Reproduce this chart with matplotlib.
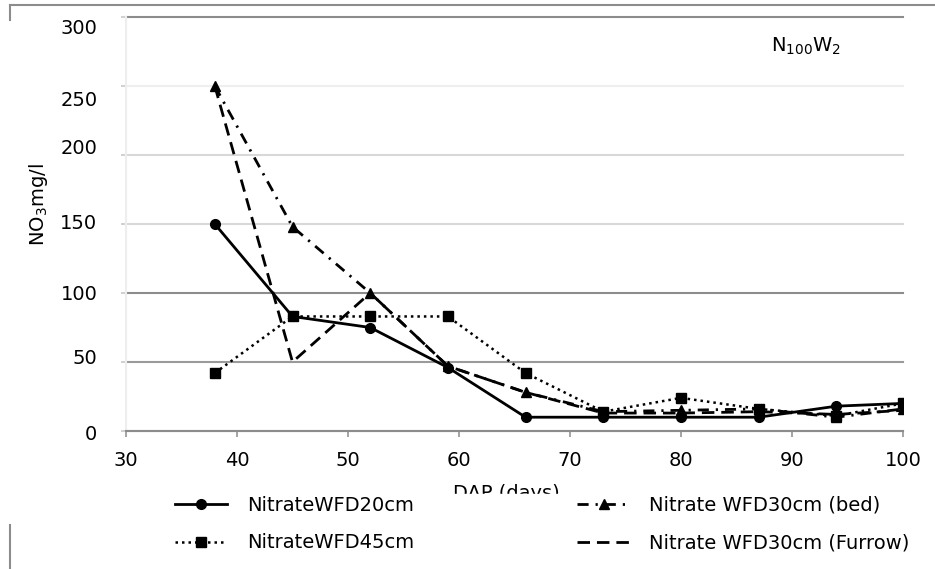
import matplotlib
matplotlib.use("Agg")
import matplotlib.pyplot as plt
import matplotlib.transforms as mtransforms
from matplotlib.lines import Line2D

# Sampling dates (days after planting) and nitrate concentration (mg/l)
dap = [38, 45, 52, 59, 66, 73, 80, 87, 94, 100]
wfd20 = [150, 83, 75, 46, 10, 10, 10, 10, 18, 20]
wfd45 = [42, 83, 83, 83, 42, 14, 24, 16, 11, 20]
wfd30_bed = [250, 148, 100, 47, 28, 14, 15, 16, 10, 16]
wfd30_furrow = [250, 50, 100, 47, 28, 13, 13, 14, 12, 15]

series_labels = ["NitrateWFD20cm", "NitrateWFD45cm",
                 "Nitrate WFD30cm (bed)", "Nitrate WFD30cm (Furrow)"]
x_ticks = [30, 40, 50, 60, 70, 80, 90, 100]
y_ticks = [0, 50, 100, 150, 200, 250, 300]

plt.rcParams["font.family"] = ["DejaVu Sans"]
plt.rcParams["mathtext.fontset"] = "dejavusans"
FS = 14

W, H = 935, 569
fig = plt.figure(figsize=(W / 100, H / 100), dpi=100)
ax = fig.add_axes([126 / W, 1 - 431 / H, (903 - 126) / W, (431 - 17) / H])

ax.plot(dap, wfd20, color="black", lw=2.0, marker="o", ms=7,
        label=series_labels[0], zorder=5)
ax.plot(dap, wfd45, color="black", lw=1.8, ls=(0, (1, 1.6)), marker="s",
        ms=6.5, label=series_labels[1], zorder=4)
ax.plot(dap, wfd30_bed, color="black", lw=2.0, ls=(0, (4, 2.5, 0.8, 2.5)),
        marker="^", ms=7, label=series_labels[2], zorder=3)
ax.plot(dap, wfd30_furrow, color="black", lw=2.0, ls=(0, (4.5, 2.5)),
        label=series_labels[3], zorder=3)

ax.set_xlim(30, 100)
ax.set_ylim(0, 300)
ax.set_xticks(x_ticks)
ax.set_yticks(y_ticks)
ax.tick_params(axis="x", labelsize=FS, length=4.5, width=1.1,
               color="#8c8c8c", pad=10)
ax.tick_params(axis="y", labelsize=FS, length=3.6, width=1.4,
               color="#d0d0d0", pad=17)

# y tick labels sit slightly off their gridlines (shift in pixels, + = down)
label_shift_px = [1, -5, 0, -2, -9, 13, 10]
for lab, dy in zip(ax.get_yticklabels(), label_shift_px):
    shift = mtransforms.ScaledTranslation(0, -dy / 100, fig.dpi_scale_trans)
    lab.set_transform(lab.get_transform() + shift)

# horizontal gridlines with uneven grey weights
ax.yaxis.grid(True, lw=1.5)
grid_colors = ["#8c8c8c", "#9a9a9a", "#8c8c8c", "#d8d8d8",
               "#d8d8d8", "#efefef", "#8c8c8c"]
for gl, c in zip(ax.get_ygridlines(), grid_colors):
    gl.set_color(c)
    gl.set_clip_on(False)

for side in ("top", "right"):
    ax.spines[side].set_visible(False)
ax.spines["bottom"].set_color("#8c8c8c")
ax.spines["bottom"].set_linewidth(1.5)
ax.spines["left"].set_color("#eeeeee")
ax.spines["left"].set_linewidth(1.5)

ax.set_xlabel("DAP (days)", fontsize=FS)
ax.xaxis.set_label_coords(0.49, -0.127)
fig.text(38 / W, 1 - 205 / H, "NO$_3$mg/l", rotation=90, fontsize=FS,
         ha="center", va="center")
ax.text(0.875, 0.93, "N$_{100}$W$_2$", transform=ax.transAxes,
        fontsize=FS, ha="center", va="center")

leg = fig.legend(loc="upper left", bbox_to_anchor=(173 / W, 1 - 494 / H),
                 ncol=2, fontsize=FS, frameon=True, framealpha=1,
                 edgecolor="white", facecolor="white", fancybox=False,
                 borderpad=0.1, borderaxespad=0, handlelength=2.7,
                 handletextpad=1.0, columnspacing=8.4, labelspacing=0.95)

# outer chart border fragments
border = dict(color="#8c8c8c", lw=1.5, transform=fig.transFigure,
              clip_on=False)
fig.add_artist(Line2D([10 / W, 1], [1 - 5 / H, 1 - 5 / H], **border))
fig.add_artist(Line2D([10 / W, 10 / W], [1 - 5 / H, 1 - 20 / H], **border))
fig.add_artist(Line2D([10 / W, 10 / W], [1 - 525 / H, 0], **border))

fig.savefig("out.png", dpi=100)
